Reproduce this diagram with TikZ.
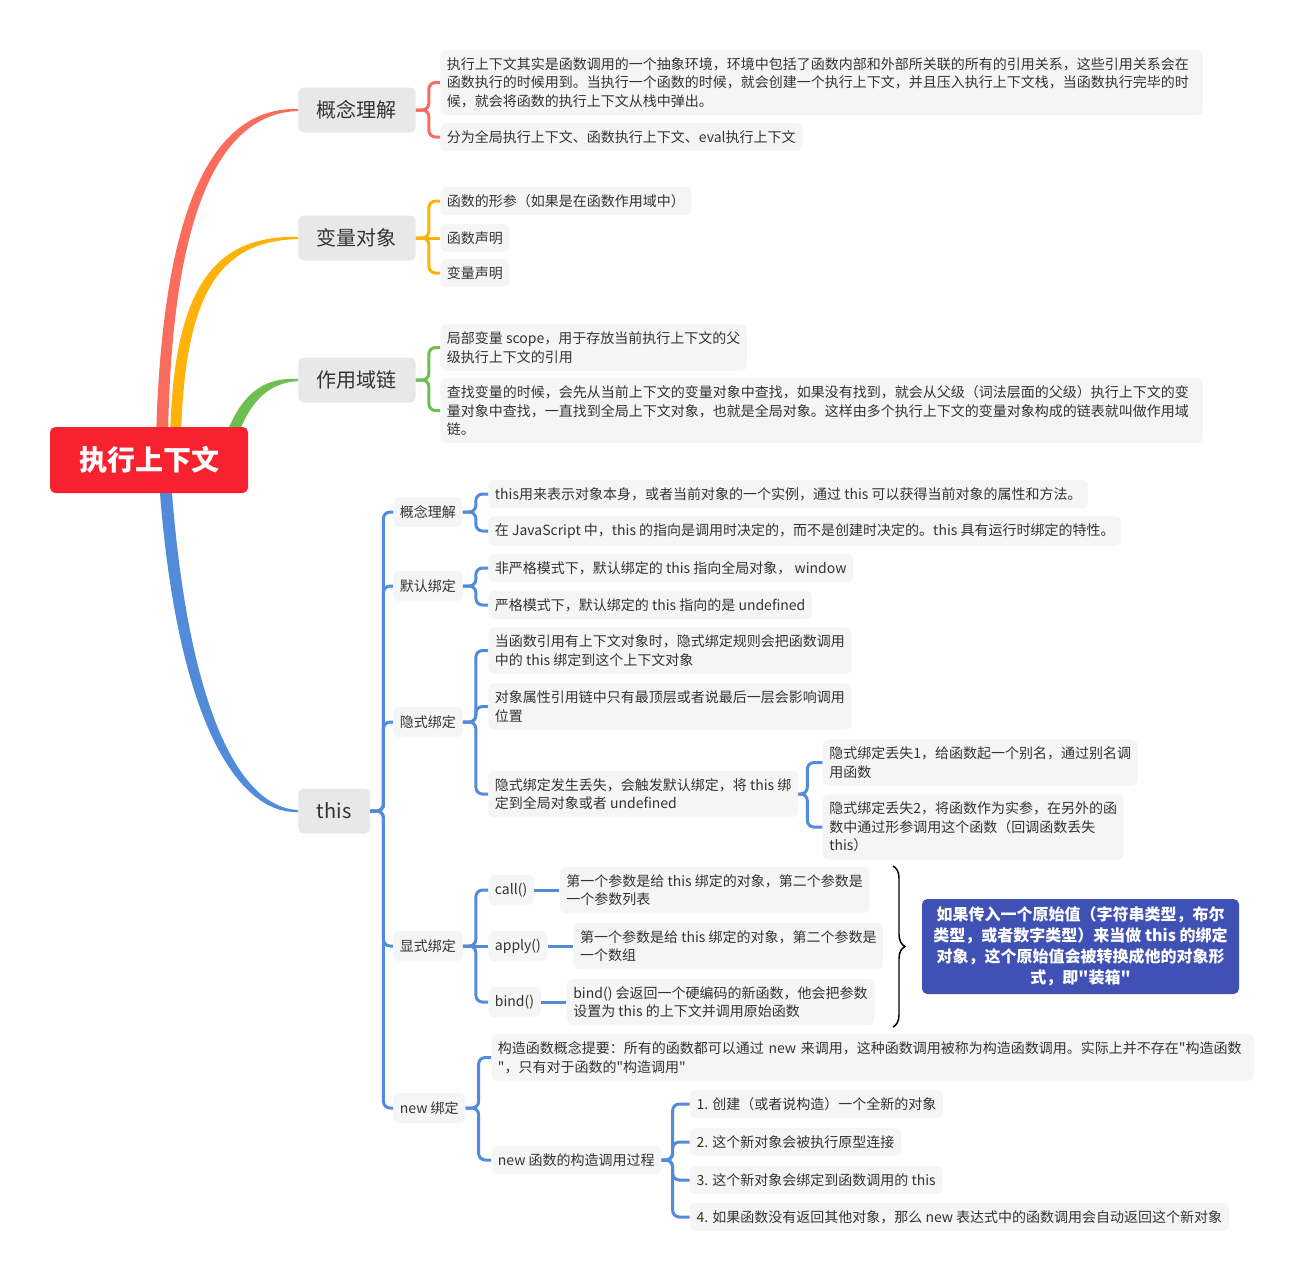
\documentclass[tikz,border=0pt]{standalone}
\usepackage{xcolor}
\usepackage{fontspec}
\setmainfont{Noto Sans CJK SC}[Ligatures=TeXOff]
\usepackage{tikz}
\usetikzlibrary{shapes,arrows,decorations.pathreplacing}
\definecolor{cred}{RGB}{248,33,47}
\definecolor{csal}{RGB}{250,108,92}
\definecolor{cyel}{RGB}{255,178,10}
\definecolor{cgrn}{RGB}{108,192,80}
\definecolor{cblu}{RGB}{82,139,217}
\definecolor{cind}{RGB}{63,81,181}
\definecolor{cmain}{RGB}{232,232,232}
\definecolor{cdet}{RGB}{245,245,245}
\definecolor{ctext}{RGB}{51,51,51}
\newcommand\fsmall{\fontsize{10.5}{13.9}\selectfont}
\tikzstyle{rootbox}=[rectangle,rounded corners=4pt,fill=cred,text=white,font=\fontsize{21}{25}\selectfont\bfseries,minimum width=148.5pt,minimum height=49.5pt]
\tikzstyle{mainbox}=[rectangle,rounded corners=4pt,fill=cmain,text=ctext,font=\fontsize{15}{18}\selectfont,inner xsep=14pt,minimum height=33.75pt,anchor=west]
\tikzstyle{subbox}=[rectangle,rounded corners=4pt,fill=cdet,text=ctext,font=\fsmall,inner xsep=5pt,minimum height=22.5pt,anchor=west]
\tikzstyle{detbox}=[rectangle,rounded corners=4pt,fill=cdet,text=ctext,font=\fsmall,inner xsep=5pt,inner ysep=5.5pt,align=left,anchor=west]
\tikzstyle{bracket}=[line width=2.25pt,rounded corners=5pt]

\begin{document}
\begin{tikzpicture}[x=0.75pt,y=-0.75pt]
\useasboundingbox (0,0) rectangle (1305,1283);
\node[mainbox] (a) at (298,110) {概念理解};
\node[mainbox] (b) at (298,238) {变量对象};
\node[mainbox] (c) at (298,380) {作用域链};
\node[mainbox] (d) at (298,811) {this};
\fill[csal] (156,440) .. controls (162,200) and (215,107) .. ([yshift=0.8pt]a.west) -- ([yshift=-0.8pt]a.west) .. controls (225,113) and (171,200) .. (168,440) -- cycle;
\fill[cyel] (170,440) .. controls (173,290) and (212,235) .. ([yshift=0.8pt]b.west) -- ([yshift=-0.8pt]b.west) .. controls (220,241) and (184,292) .. (181,440) -- cycle;
\fill[cgrn] (224,440) .. controls (240,395) and (262,377) .. ([yshift=0.8pt]c.west) -- ([yshift=-0.8pt]c.west) .. controls (268,383) and (250,401) .. (236,440) -- cycle;
\fill[cblu] (159,480) .. controls (176,722) and (238,814) .. ([yshift=-0.8pt]d.west) -- ([yshift=0.8pt]d.west) .. controls (243,808) and (188,718) .. (171,480) -- cycle;
\node[rootbox] (r) at (149,460) {执行上下文};

\node[detbox,text width=562pt] (a1) at (440,82.5) {执行上下文其实是函数调用的一个抽象环境，环境中包括了函数内部和外部所关联的所有的引用关系，这些引用关系会在\\函数执行的时候用到。当执行一个函数的时候，就会创建一个执行上下文，并且压入执行上下文栈，当函数执行完毕的时\\候，就会将函数的执行上下文从栈中弹出。};
\node[detbox] (a2) at (440,137) {分为全局执行上下文、函数执行上下文、eval执行上下文};
\draw[bracket,csal] (a.east) -- ++(13,0) |- (a1.west);
\draw[bracket,csal] (a.east) -- ++(13,0) |- (a2.west);

\node[detbox] (b1) at (440,201) {函数的形参（如果是在函数作用域中）};
\node[detbox] (b2) at (440,238) {函数声明};
\node[detbox] (b3) at (440,273) {变量声明};
\draw[bracket,cyel] (b.east) -- ++(13,0) |- (b1.west);
\draw[bracket,cyel] (b.east) -- (b2.west);
\draw[bracket,cyel] (b.east) -- ++(13,0) |- (b3.west);

\node[detbox] (c1) at (440,347.5) {局部变量 scope，用于存放当前执行上下文的父\\级执行上下文的引用};
\node[detbox,text width=562pt] (c2) at (440,410.5) {查找变量的时候，会先从当前上下文的变量对象中查找，如果没有找到，就会从父级（词法层面的父级）执行上下文的变\\量对象中查找，一直找到全局上下文对象，也就是全局对象。这样由多个执行上下文的变量对象构成的链表就叫做作用域\\链。};
\draw[bracket,cgrn] (c.east) -- ++(13,0) |- (c1.west);
\draw[bracket,cgrn] (c.east) -- ++(13,0) |- (c2.west);

\node[subbox] (d1) at (393,512) {概念理解};
\node[subbox] (d2) at (393,586) {默认绑定};
\node[subbox] (d3) at (393,722) {隐式绑定};
\node[subbox] (d4) at (393,946) {显式绑定};
\node[subbox] (d5) at (393,1108) {new 绑定};
\foreach \n in {d1,d2,d3,d4,d5}
  \draw[bracket,cblu] (d.east) -- ++(13,0) |- (\n.west);

\node[detbox] (d11) at (488,494) {this用来表示对象本身，或者当前对象的一个实例，通过 this 可以获得当前对象的属性和方法。};
\node[detbox] (d12) at (488,531) {在 JavaScript 中，this 的指向是调用时决定的，而不是创建时决定的。this 具有运行时绑定的特性。};
\draw[bracket,cblu] (d1.east) -- ++(13,0) |- (d11.west);
\draw[bracket,cblu] (d1.east) -- ++(13,0) |- (d12.west);

\node[detbox] (d21) at (488,568) {非严格模式下，默认绑定的 this 指向全局对象， window};
\node[detbox] (d22) at (488,605) {严格模式下，默认绑定的 this 指向的是 undefined};
\draw[bracket,cblu] (d2.east) -- ++(13,0) |- (d21.west);
\draw[bracket,cblu] (d2.east) -- ++(13,0) |- (d22.west);

\node[detbox] (d31) at (488,650.5) {当函数引用有上下文对象时，隐式绑定规则会把函数调用\\中的 this 绑定到这个上下文对象};
\node[detbox] (d32) at (488,706.5) {对象属性引用链中只有最顶层或者说最后一层会影响调用\\位置};
\node[detbox] (d33) at (488,794) {隐式绑定发生丢失，会触发默认绑定，将 this 绑\\定到全局对象或者 undefined};
\draw[bracket,cblu] (d3.east) -- ++(13,0) |- (d31.west);
\draw[bracket,cblu] (d3.east) -- ++(13,0) |- (d32.west);
\draw[bracket,cblu] (d3.east) -- ++(13,0) |- (d33.west);
\node[detbox] (d331) at ([xshift=18pt,yshift=23.6pt]d33.east) {隐式绑定丢失1，给函数起一个别名，通过别名调\\用函数};
\node[detbox] (d332) at ([xshift=18pt,yshift=-24.8pt]d33.east) {隐式绑定丢失2，将函数作为实参，在另外的函\\数中通过形参调用这个函数（回调函数丢失\\this）};
\draw[bracket,cblu] (d33.east) -- ++(9,0) |- (d331.west);
\draw[bracket,cblu] (d33.east) -- ++(9,0) |- (d332.west);

\node[subbox] (d41) at (488,890) {call()};
\node[subbox] (d42) at (488,946) {apply()};
\node[subbox] (d43) at (488,1002) {bind()};
\draw[bracket,cblu] (d4.east) -- ++(13,0) |- (d41.west);
\draw[bracket,cblu] (d4.east) -- (d42.west);
\draw[bracket,cblu] (d4.east) -- ++(13,0) |- (d43.west);
\node[detbox] (d41a) at ([xshift=19pt]d41.east) {第一个参数是给 this 绑定的对象，第二个参数是\\一个参数列表};
\node[detbox] (d42a) at ([xshift=19pt]d42.east) {第一个参数是给 this 绑定的对象，第二个参数是\\一个数组};
\node[detbox] (d43a) at ([xshift=19pt]d43.east) {bind() 会返回一个硬编码的新函数，他会把参数\\设置为 this 的上下文并调用原始函数};
\draw[bracket,cblu] (d41.east) -- (d41a.west);
\draw[bracket,cblu] (d42.east) -- (d42a.west);
\draw[bracket,cblu] (d43.east) -- (d43a.west);
\draw[line width=1.1pt,decorate,decoration={brace,amplitude=9pt}] (893,866) -- (893,1027);
\node[rectangle,rounded corners=4pt,fill=cind,text=white,font=\fontsize{12}{15.75}\selectfont\bfseries,align=center,minimum width=237.75pt,minimum height=71.25pt] (e) at (1080.5,946.5) {如果传入一个原始值（字符串类型，布尔\\类型，或者数字类型）来当做 this 的绑定\\对象，这个原始值会被转换成他的对象形\\式，即"装箱"};

\node[detbox,text width=562pt] (d51) at (491,1057.5) {构造函数概念提要：所有的函数都可以通过 new 来调用，这种函数调用被称为构造函数调用。实际上并不存在"构造函数\\"，只有对于函数的"构造调用"};
\node[detbox] (d52) at (491,1160) {new 函数的构造调用过程};
\draw[bracket,cblu] (d5.east) -- ++(13,0) |- (d51.west);
\draw[bracket,cblu] (d5.east) -- ++(13,0) |- (d52.west);
\node[detbox] (d521) at ([xshift=21pt,yshift=42pt]d52.east) {1. 创建（或者说构造）一个全新的对象};
\node[detbox] (d522) at ([xshift=21pt,yshift=13.5pt]d52.east) {2. 这个新对象会被执行原型连接};
\node[detbox] (d523) at ([xshift=21pt,yshift=-15pt]d52.east) {3. 这个新对象会绑定到函数调用的 this};
\node[detbox] (d524) at ([xshift=21pt,yshift=-42.75pt]d52.east) {4. 如果函数没有返回其他对象，那么 new 表达式中的函数调用会自动返回这个新对象};
\foreach \n in {d521,d522,d523,d524}
  \draw[bracket,cblu] (d52.east) -- ++(11,0) |- (\n.west);
\end{tikzpicture}
\end{document}
